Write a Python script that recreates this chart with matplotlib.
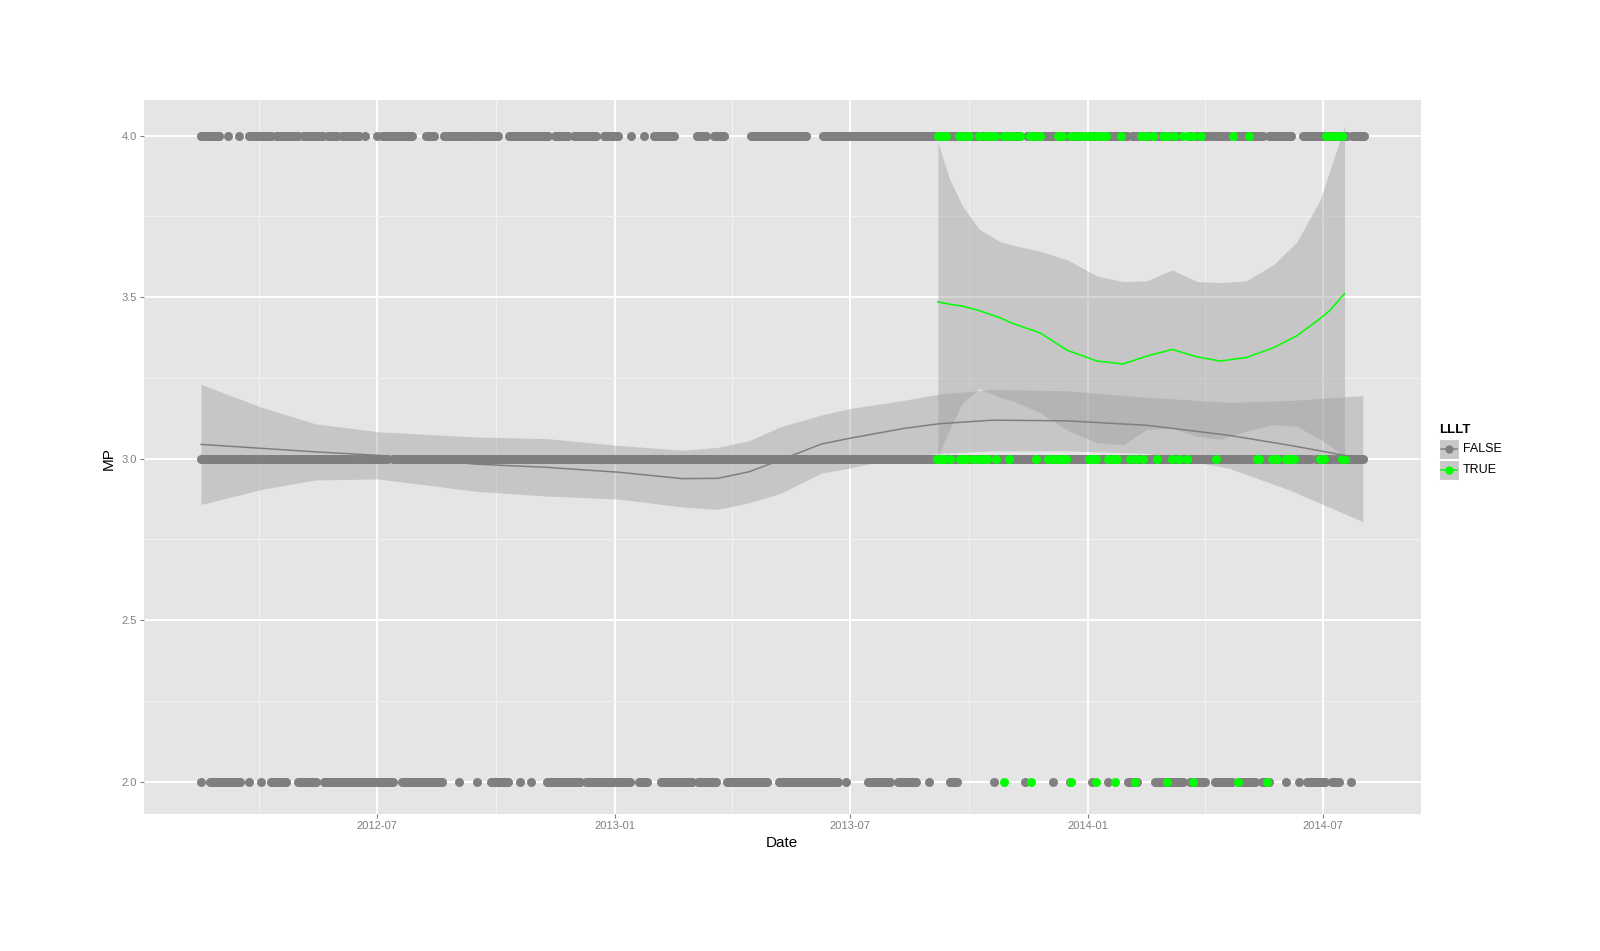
import numpy as np
import pandas as pd
import matplotlib
matplotlib.use('Agg')
import matplotlib.pyplot as plt
from matplotlib.patches import Rectangle
from matplotlib.lines import Line2D

plt.rcParams['font.family'] = ['Liberation Sans', 'DejaVu Sans']

PANEL_BG = '#E5E5E5'
GREY     = '#7F7F7F'
GREEN    = '#00FF00'
RIBBON   = '#999999'

# daily records, given as runs of consecutive days (start, end)
MP4_FALSE_RUNS = [
    ('2012-02-16', '2012-03-01'), ('2012-03-08', '2012-03-08'), ('2012-03-16', '2012-03-16'),
    ('2012-03-24', '2012-04-10'), ('2012-04-14', '2012-05-01'), ('2012-05-05', '2012-05-20'),
    ('2012-05-24', '2012-05-31'), ('2012-06-04', '2012-06-17'), ('2012-06-22', '2012-06-22'),
    ('2012-07-01', '2012-07-01'), ('2012-07-05', '2012-07-28'), ('2012-08-08', '2012-08-14'),
    ('2012-08-22', '2012-09-15'), ('2012-09-18', '2012-10-02'), ('2012-10-11', '2012-11-10'),
    ('2012-11-15', '2012-11-25'), ('2012-11-30', '2012-12-17'), ('2012-12-23', '2013-01-03'),
    ('2013-01-13', '2013-01-13'), ('2013-01-23', '2013-01-23'), ('2013-01-31', '2013-02-15'),
    ('2013-03-05', '2013-03-12'), ('2013-03-18', '2013-03-26'), ('2013-04-16', '2013-05-28'),
    ('2013-06-10', '2013-10-17'), ('2013-10-20', '2013-11-09'), ('2013-11-15', '2013-11-24'),
    ('2013-11-28', '2013-12-25'), ('2013-12-30', '2014-01-10'), ('2014-01-15', '2014-01-31'),
    ('2014-02-04', '2014-03-11'), ('2014-03-13', '2014-03-13'), ('2014-03-21', '2014-04-06'),
    ('2014-04-09', '2014-04-20'), ('2014-04-26', '2014-05-16'), ('2014-05-21', '2014-06-07'),
    ('2014-06-16', '2014-07-20'), ('2014-07-24', '2014-08-02'),
]
MP3_FALSE_RUNS = [
    ('2012-02-16', '2012-03-29'), ('2012-03-31', '2012-06-16'), ('2012-06-19', '2012-07-09'),
    ('2012-07-13', '2014-05-01'), ('2014-05-04', '2014-06-22'), ('2014-06-26', '2014-07-08'),
    ('2014-07-11', '2014-08-01'),
]
MP2_FALSE_RUNS = [
    ('2012-02-16', '2012-02-16'), ('2012-02-23', '2012-03-17'), ('2012-03-24', '2012-03-24'),
    ('2012-04-02', '2012-04-02'), ('2012-04-10', '2012-04-22'), ('2012-05-01', '2012-05-15'),
    ('2012-05-21', '2012-07-13'), ('2012-07-20', '2012-08-20'), ('2012-09-02', '2012-09-02'),
    ('2012-09-16', '2012-09-16'), ('2012-09-27', '2012-10-10'), ('2012-10-19', '2012-10-19'),
    ('2012-10-28', '2012-10-28'), ('2012-11-09', '2012-12-05'), ('2012-12-09', '2013-01-12'),
    ('2013-01-19', '2013-01-25'), ('2013-02-05', '2013-03-01'), ('2013-03-06', '2013-03-20'),
    ('2013-03-28', '2013-04-28'), ('2013-05-07', '2013-06-22'), ('2013-06-28', '2013-06-28'),
    ('2013-07-15', '2013-08-01'), ('2013-08-07', '2013-08-21'), ('2013-08-31', '2013-08-31'),
    ('2013-09-16', '2013-09-22'), ('2013-10-20', '2013-10-20'), ('2013-11-13', '2013-11-13'),
    ('2013-12-05', '2013-12-05'), ('2013-12-18', '2013-12-18'), ('2014-01-04', '2014-01-04'),
    ('2014-01-16', '2014-01-16'), ('2014-02-01', '2014-02-08'), ('2014-02-22', '2014-03-15'),
    ('2014-03-21', '2014-04-01'), ('2014-04-09', '2014-04-22'), ('2014-04-27', '2014-05-10'),
    ('2014-05-15', '2014-05-21'), ('2014-06-03', '2014-06-03'), ('2014-06-13', '2014-06-13'),
    ('2014-06-19', '2014-07-03'), ('2014-07-08', '2014-07-14'), ('2014-07-23', '2014-07-23'),
]

# LLLT == TRUE records
MP4_TRUE = ['2013-09-07', '2013-09-10', '2013-09-13', '2013-09-23', '2013-09-27', '2013-10-01',
            '2013-10-09', '2013-10-13', '2013-10-17', '2013-10-21', '2013-10-28', '2013-11-01',
            '2013-11-05', '2013-11-09', '2013-11-17', '2013-11-21', '2013-11-25', '2013-12-09',
            '2013-12-12', '2013-12-19', '2013-12-23', '2013-12-27', '2013-12-31', '2014-01-04',
            '2014-01-08', '2014-01-12', '2014-01-15', '2014-01-26', '2014-02-11', '2014-02-15',
            '2014-02-20', '2014-02-28', '2014-03-03', '2014-03-08', '2014-03-15', '2014-03-19',
            '2014-03-23', '2014-03-29', '2014-04-23', '2014-05-05', '2014-07-04', '2014-07-08',
            '2014-07-12', '2014-07-16']
MP3_TRUE = ['2013-09-06', '2013-09-09', '2013-09-12', '2013-09-16', '2013-09-24', '2013-09-27',
            '2013-09-29', '2013-10-04', '2013-10-08', '2013-10-12', '2013-10-15', '2013-10-22',
            '2013-11-01', '2013-11-22', '2013-12-01', '2013-12-04', '2013-12-08', '2013-12-12',
            '2013-12-15', '2014-01-02', '2014-01-05', '2014-01-07', '2014-01-16', '2014-01-20',
            '2014-01-23', '2014-02-02', '2014-02-07', '2014-02-12', '2014-02-23', '2014-03-07',
            '2014-03-12', '2014-03-18', '2014-04-10', '2014-05-11', '2014-05-13', '2014-05-23',
            '2014-05-27', '2014-06-03', '2014-06-06', '2014-06-09', '2014-06-29', '2014-07-02',
            '2014-07-16', '2014-07-18']
MP2_TRUE = ['2013-10-28', '2013-11-18', '2013-12-19', '2014-01-07', '2014-01-22', '2014-02-06',
            '2014-03-03', '2014-03-23', '2014-04-27', '2014-05-19']

# loess fits and 95% bands
FALSE_FIT_DATES = ['2012-02-16', '2012-04-02', '2012-05-14', '2012-07-02', '2012-09-15', '2012-11-09',
                   '2013-01-03', '2013-02-22', '2013-03-21', '2013-04-14', '2013-05-08', '2013-06-09',
                   '2013-07-01', '2013-08-11', '2013-09-08', '2013-10-19', '2013-12-15', '2014-02-16',
                   '2014-04-20', '2014-06-06', '2014-08-01']
FALSE_FIT = [3.044, 3.032, 3.021, 3.010, 2.983, 2.973, 2.958, 2.938, 2.939, 2.959, 2.995, 3.045,
             3.063, 3.093, 3.108, 3.119, 3.117, 3.103, 3.072, 3.041, 3.000]
FALSE_HI  = [3.230, 3.160, 3.108, 3.083, 3.067, 3.062, 3.041, 3.026, 3.035, 3.055, 3.098, 3.135,
             3.155, 3.180, 3.200, 3.214, 3.210, 3.190, 3.174, 3.180, 3.195]
FALSE_LO  = [2.858, 2.904, 2.934, 2.937, 2.899, 2.884, 2.875, 2.850, 2.843, 2.863, 2.892, 2.955,
             2.971, 3.006, 3.016, 3.024, 3.024, 3.016, 2.970, 2.902, 2.805]

TRUE_FIT_DATES = ['2013-09-07', '2013-09-16', '2013-09-26', '2013-10-09', '2013-10-25', '2013-11-04',
                  '2013-11-25', '2013-12-16', '2014-01-08', '2014-01-28', '2014-02-15', '2014-03-07',
                  '2014-03-26', '2014-04-13', '2014-05-03', '2014-05-24', '2014-06-11', '2014-06-29',
                  '2014-07-07', '2014-07-18']
TRUE_FIT = [3.485, 3.478, 3.472, 3.458, 3.436, 3.418, 3.389, 3.335, 3.302, 3.293, 3.317, 3.338,
            3.315, 3.302, 3.313, 3.343, 3.380, 3.433, 3.460, 3.511]
TRUE_HI  = [3.978, 3.865, 3.782, 3.710, 3.672, 3.660, 3.642, 3.615, 3.565, 3.548, 3.550, 3.584,
            3.548, 3.545, 3.550, 3.600, 3.670, 3.800, 3.896, 4.030]
TRUE_LO  = [3.007, 3.090, 3.173, 3.216, 3.190, 3.178, 3.142, 3.088, 3.049, 3.043, 3.090, 3.095,
            3.069, 3.060, 3.085, 3.105, 3.100, 3.060, 3.040, 3.005]

Y_TICKS  = [2.0, 2.5, 3.0, 3.5, 4.0]
X_TICKS  = ['2012-07-01', '2013-01-01', '2013-07-01', '2014-01-01', '2014-07-01']
X_LABELS = ['2012-07', '2013-01', '2013-07', '2014-01', '2014-07']
X_MINOR  = ['2012-04-01', '2012-10-01', '2013-04-01', '2013-10-01', '2014-04-01']


def expand(runs):
    return np.concatenate([pd.date_range(s, e, freq='D').values for s, e in runs])


W, H = 1600, 951
fig = plt.figure(figsize=(W / 100, H / 100), dpi=100)
ax = fig.add_axes([144 / W, 1 - 814 / H, (1421 - 144) / W, (814 - 100) / H])
ax.set_facecolor(PANEL_BG)
for s in ax.spines.values():
    s.set_visible(False)

ax.set_xlim(pd.Timestamp('2012-01-03'), pd.Timestamp('2014-09-15'))
ax.set_ylim(1.9, 4.11)

ax.set_yticks(Y_TICKS)
ax.set_yticklabels([f'{v:.1f}' for v in Y_TICKS])
ax.set_yticks([2.25, 2.75, 3.25, 3.75], minor=True)
ax.set_xticks(pd.to_datetime(X_TICKS))
ax.set_xticklabels(X_LABELS)
ax.set_xticks(pd.to_datetime(X_MINOR), minor=True)
ax.grid(which='major', color='white', lw=1.4)
ax.grid(which='minor', color='#F2F2F2', lw=0.7)
ax.set_axisbelow(True)
ax.tick_params(which='major', length=3, width=0.8, color=GREY, labelcolor=GREY,
               labelsize=8, pad=2)
ax.tick_params(which='minor', length=0)

# ribbons
ax.fill_between(pd.to_datetime(FALSE_FIT_DATES), FALSE_LO, FALSE_HI,
                color=RIBBON, alpha=0.4, lw=0, zorder=2)
ax.fill_between(pd.to_datetime(TRUE_FIT_DATES), TRUE_LO, TRUE_HI,
                color=RIBBON, alpha=0.4, lw=0, zorder=2)

# points
pt = dict(s=42, linewidths=0, zorder=3)
for runs, mp in [(MP4_FALSE_RUNS, 4), (MP3_FALSE_RUNS, 3), (MP2_FALSE_RUNS, 2)]:
    d = expand(runs)
    ax.scatter(d, np.full(len(d), mp), color=GREY, **pt)
for dates, mp in [(MP4_TRUE, 4), (MP3_TRUE, 3), (MP2_TRUE, 2)]:
    d = pd.to_datetime(dates)
    ax.scatter(d, np.full(len(d), mp), color=GREEN, **pt)

# smooth lines
ax.plot(pd.to_datetime(FALSE_FIT_DATES), FALSE_FIT, color=GREY, lw=1.1, zorder=4)
ax.plot(pd.to_datetime(TRUE_FIT_DATES), TRUE_FIT, color=GREEN, lw=1.1, zorder=4)

fig.text(782 / W, 1 - 843 / H, 'Date', ha='center', va='center', fontsize=11)
fig.text(109 / W, 1 - 459 / H, 'MP', ha='center', va='center', fontsize=11, rotation=90)

# legend
fig.text(1439 / W, 1 - 430 / H, 'LLLT', ha='left', va='center', fontsize=9.5, fontweight='bold')
for i, (lab, col) in enumerate([('FALSE', GREY), ('TRUE', GREEN)]):
    y0 = 439 + i * 21
    fig.patches.append(Rectangle((1439 / W, 1 - (y0 + 20) / H), 20 / W, 20 / H,
                                 transform=fig.transFigure, facecolor='#C8C8C8',
                                 edgecolor='white', lw=0.8))
    yc = 1 - (y0 + 10) / H
    fig.lines.append(Line2D([1441 / W, 1457 / W], [yc, yc], transform=fig.transFigure,
                            color=col, lw=1.1))
    fig.lines.append(Line2D([1449 / W], [yc], transform=fig.transFigure, color=col,
                            marker='o', markersize=6, markeredgewidth=0, linestyle='none'))
    fig.text(1463 / W, yc, lab, ha='left', va='center', fontsize=9)

fig.savefig('out.png', dpi=100, facecolor='white')
